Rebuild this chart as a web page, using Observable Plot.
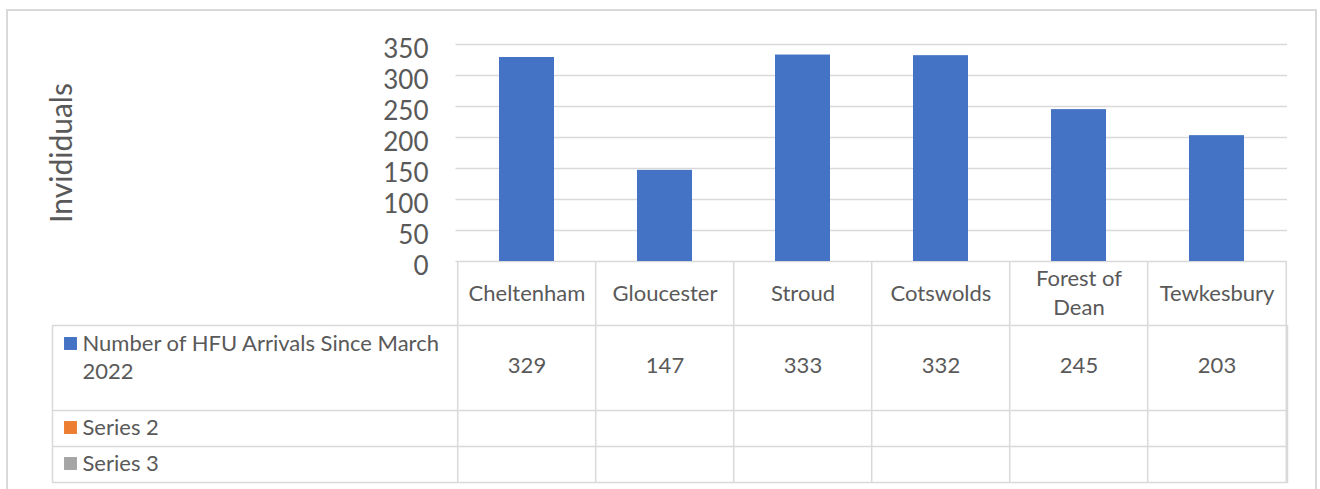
<!DOCTYPE html>
<html><head><meta charset="utf-8">
<script src="https://cdn.jsdelivr.net/npm/d3@7"></script>
<script src="https://cdn.jsdelivr.net/npm/@observablehq/plot@0.6"></script>
<style>
body{margin:0;background:#fff;font-family:Lato,sans-serif}
#wrap{position:relative;width:1320px;height:489px;overflow:hidden;background:#fff}
#border{position:absolute;left:6px;top:9px;width:1311px;height:600px;border:2px solid #d9d9d9;box-sizing:border-box}
#chart{position:absolute;left:0;top:0}
</style></head><body><div id="wrap"><div id="border"></div><div id="chart"></div></div>
<script>
const categories = ["Cheltenham", "Gloucester", "Stroud", "Cotswolds", "Forest of Dean", "Tewkesbury"];
const categoryLabels = ["Cheltenham", "Gloucester", "Stroud", "Cotswolds", "Forest of\nDean", "Tewkesbury"];
const arrivals = [329, 147, 333, 332, 245, 203];
const seriesNames = ["Number of HFU Arrivals Since March\n2022", "Series 2", "Series 3"];
const seriesColors = ["#4472C4", "#ED7D31", "#A5A5A5"];
const yTicks = [0, 50, 100, 150, 200, 250, 300, 350];
const yTitle = "Invididuals";

const data = categories.map((c, i) => ({cat: c, label: categoryLabels[i], value: arrivals[i]}));

// layout (pixels)
const W = 1320, H = 489;
const mL = 52, mR = 33, mT = 44, mB = 7;
const X0 = 455.5, X1 = 1287;
const step = (X1 - X0) / categories.length;
const zeroY = 261;
const lineCol = "#d9d9d9";
const textCol = "#595959";
const tableFont = 22;
const rowText = [
  {dy: 69, anchor: "top", swatch: 82},
  {dy: 164, anchor: "middle", swatch: 166},
  {dy: 200, anchor: "middle", swatch: 202}
];

const legendMarks = seriesNames.flatMap((name, i) => [
  Plot.dot([name], {frameAnchor: "left", y: () => 0, dx: 18, dy: rowText[i].swatch, symbol: "square", r: 7.3, fill: seriesColors[i], stroke: null}),
  Plot.text([name], {frameAnchor: "left", y: () => 0, dx: 30, dy: rowText[i].dy, text: d => d, textAnchor: "start", lineAnchor: rowText[i].anchor, fontSize: tableFont, lineHeight: 1.3, fill: textCol})
]);

const chart = Plot.plot({
  width: W, height: H,
  marginLeft: mL, marginRight: mR, marginTop: mT, marginBottom: mB,
  x: {type: "band", domain: categories, range: [X0, X1], paddingInner: 0.6, paddingOuter: 0.3, axis: null},
  y: {domain: [0, 350], range: [zeroY, mT], axis: null},
  style: {fontFamily: "Lato, sans-serif", color: textCol, background: "transparent"},
  marks: [
    Plot.ruleY(yTicks, {stroke: lineCol, strokeWidth: 1.5, insetLeft: X0 - mL}),
    Plot.barY(data, {x: "cat", y: "value", fill: seriesColors[0]}),
    Plot.axisY({ticks: yTicks, tickSize: 0, tickPadding: 0, dx: 428 - mL, dy: 5, fontSize: 26, label: null, anchor: "left", fill: textCol}),
    Plot.text([yTitle], {frameAnchor: "top-left", dx: 10, dy: 108.5, rotate: -90, text: d => d, fontSize: 30, textAnchor: "middle", lineAnchor: "middle", fill: textCol}),
    // data table
    Plot.frame({insetTop: 325 - mT, stroke: lineCol, strokeWidth: 1.5}),
    Plot.ruleY([0], {dy: 149, stroke: lineCol, strokeWidth: 1.5}),
    Plot.ruleY([0], {dy: 185, stroke: lineCol, strokeWidth: 1.5}),
    Plot.ruleX(categories, {x: d => d, dx: -step / 2, insetTop: zeroY - mT, stroke: lineCol, strokeWidth: 1.5}),
    Plot.ruleX([categories[categories.length - 1]], {x: d => d, dx: step / 2, insetTop: zeroY - mT, stroke: lineCol, strokeWidth: 1.5}),
    Plot.text(data, {x: "cat", y: () => 0, dy: 30, text: "label", fontSize: tableFont, lineHeight: 1.3, lineAnchor: "middle", fill: textCol}),
    Plot.text(data, {x: "cat", y: () => 0, dy: 104, text: d => String(d.value), fontSize: tableFont, lineAnchor: "middle", fill: textCol}),
    ...legendMarks
  ]
});
document.getElementById("chart").appendChild(chart);
</script></body></html>
